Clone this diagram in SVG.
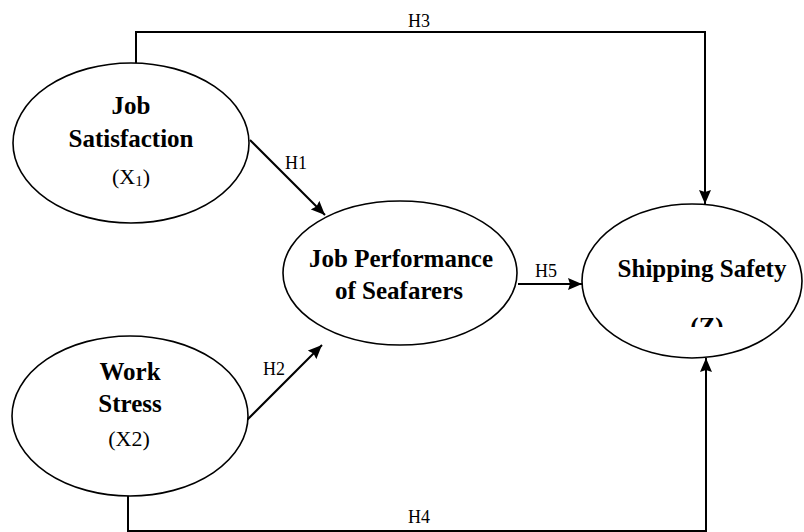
<svg xmlns="http://www.w3.org/2000/svg" width="804" height="532" viewBox="0 0 804 532">
  <style>
    .node ellipse { fill: #ffffff; stroke: #000000; stroke-width: 1.6; }
    .b { font-family: "Liberation Serif", "Times New Roman", serif; font-weight: bold; font-size: 25px; fill: #000; text-anchor: middle; }
    .r { font-family: "Liberation Serif", "Times New Roman", serif; font-size: 22px; fill: #000; text-anchor: middle; }
    .lbl { font-family: "Liberation Serif", "Times New Roman", serif; font-size: 18px; fill: #000; text-anchor: middle; }
    .edge { fill: none; stroke: #000000; stroke-width: 2; }
  </style>
  <defs>
    <marker id="arrow" markerWidth="14" markerHeight="12" refX="14" refY="6" orient="auto" markerUnits="userSpaceOnUse">
      <path d="M0,0 L14,6 L0,12 L2,6 z" fill="#000"/>
    </marker>
    <clipPath id="zclip">
      <rect x="600" y="300" width="200" height="27"/>
    </clipPath>
  </defs>
  <rect x="0" y="0" width="804" height="532" fill="#ffffff"/>

  <g id="connectors">
    <path class="edge" d="M136,63 L136,32 L705,32 L705,204" marker-end="url(#arrow)"/>
    <path class="edge" d="M128,496 L128,531 L706,531 L706,358" marker-end="url(#arrow)"/>
    <line class="edge" x1="250" y1="140" x2="325" y2="215" marker-end="url(#arrow)"/>
    <line class="edge" x1="247" y1="420" x2="322" y2="345" marker-end="url(#arrow)"/>
    <line class="edge" x1="518" y1="284" x2="582" y2="284" marker-end="url(#arrow)"/>
    <text class="lbl" x="419" y="27">H3</text>
    <text class="lbl" x="419" y="523">H4</text>
    <text class="lbl" x="296" y="169">H1</text>
    <text class="lbl" x="274" y="375">H2</text>
    <text class="lbl" x="546" y="277">H5</text>
  </g>

  <g id="job-satisfaction" class="node">
    <ellipse cx="131" cy="143" rx="118" ry="80"/>
    <text class="b" x="131" y="114">Job</text>
    <text class="b" x="131" y="147">Satisfaction</text>
    <text class="r" x="131" y="184">(X<tspan font-size="15" dy="2">1</tspan><tspan dy="-2">)</tspan></text>
  </g>

  <g id="work-stress" class="node">
    <ellipse cx="130" cy="416" rx="118" ry="80"/>
    <text class="b" x="130" y="380">Work</text>
    <text class="b" x="130" y="412">Stress</text>
    <text class="r" x="129" y="446">(X2)</text>
  </g>

  <g id="job-performance" class="node">
    <ellipse cx="400" cy="273" rx="117" ry="72"/>
    <text class="b" x="401" y="267">Job Performance</text>
    <text class="b" x="399" y="299">of Seafarers</text>
  </g>

  <g id="shipping-safety" class="node">
    <ellipse cx="692" cy="281" rx="110" ry="77"/>
    <text class="b" x="702" y="277">Shipping Safety</text>
    <text class="b" x="707" y="335" clip-path="url(#zclip)">(Z)</text>
  </g>
</svg>
